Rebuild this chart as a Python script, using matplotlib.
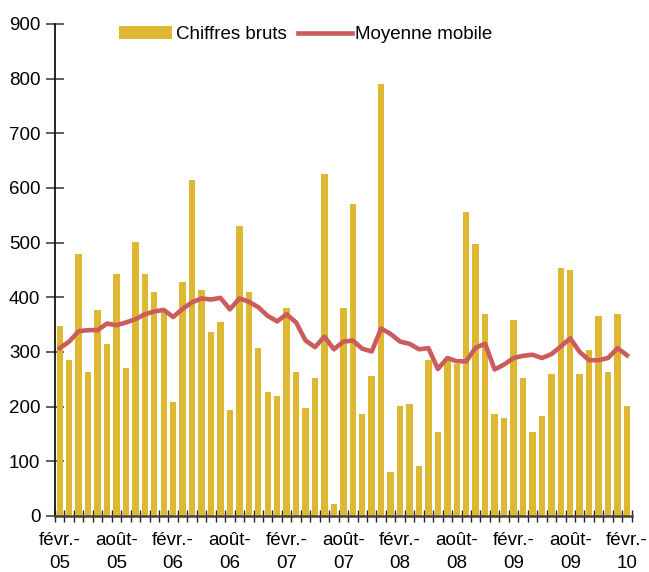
import matplotlib
matplotlib.use('Agg')
import matplotlib.pyplot as plt
import numpy as np

plt.rcParams['font.family'] = ['Liberation Sans', 'DejaVu Sans']

# monthly series, févr. 2005 -> févr. 2010
chiffres_bruts = [347, 285, 479, 263, 377, 315, 443, 271, 501, 443,
                  410, 377, 208, 428, 615, 413, 337, 355, 194, 530,
                  410, 307, 227, 219, 380, 263, 198, 252, 625, 22,
                  380, 571, 187, 256, 790, 80, 201, 205, 91, 285,
                  154, 285, 278, 556, 497, 369, 187, 179, 358, 252,
                  154, 183, 260, 454, 450, 260, 304, 366, 263, 369,
                  201]
moyenne_mobile = [307, 319, 338, 340, 340, 352, 349, 354, 360, 369,
                  374, 377, 364, 379, 391, 398, 396, 399, 378, 398,
                  392, 382, 366, 356, 369, 354, 321, 309, 328, 305,
                  319, 321, 306, 301, 343, 333, 319, 315, 305, 307,
                  269, 289, 283, 283, 308, 315, 268, 277, 289, 293,
                  295, 289, 296, 310, 325, 300, 285, 285, 289, 307,
                  294]
tick_labels = ['févr.-\n05', 'août-\n05', 'févr.-\n06', 'août-\n06',
               'févr.-\n07', 'août-\n07', 'févr.-\n08', 'août-\n08',
               'févr.-\n09', 'août-\n09', 'févr.-\n10']

bar_color = '#DFB833'
line_color = '#CC5C5C'

fig = plt.figure(figsize=(6.49, 5.72), dpi=100)
ax = fig.add_axes([55 / 649, 1 - 516 / 572, (631.7 - 55) / 649, (516 - 24) / 572])

x = np.arange(len(chiffres_bruts))
bars = ax.bar(x, chiffres_bruts, width=0.68, color=bar_color, label='Chiffres bruts', zorder=2)
line, = ax.plot(x, moyenne_mobile, color=line_color, lw=3.3, label='Moyenne mobile',
                solid_joinstyle='round', zorder=3)

ax.set_xlim(-0.5, len(x) - 0.5)
ax.set_ylim(0, 900)
ax.set_yticks(range(0, 901, 100))

# boundary ticks between months, labels every 6 months
ax.set_xticks(np.arange(len(x) + 1) - 0.5)
ax.set_xticklabels([])
ax.set_xticks(x[::6], minor=True)
ax.set_xticklabels(tick_labels, minor=True, linespacing=1.5)
ax.tick_params(axis='x', which='major', direction='inout', length=8, width=1, color='#222222')
ax.tick_params(axis='x', which='minor', length=0, pad=11.5, labelsize=13.5)
ax.tick_params(axis='y', direction='inout', length=13, width=1.2, color='#444444',
               pad=4, labelsize=13.5)

for side in ['top', 'right']:
    ax.spines[side].set_visible(False)
ax.spines['left'].set_color('#111111')
ax.spines['left'].set_linewidth(1.3)
ax.spines['bottom'].set_color('#4a4433')
ax.spines['bottom'].set_linewidth(1.8)
ax.spines['bottom'].set_zorder(4)

fig.legend(handles=[bars, line], loc='upper left', bbox_to_anchor=(119 / 649, 1 - 26 / 572),
           ncol=2, frameon=False, fontsize=13.5, borderpad=0, borderaxespad=0,
           handlelength=2.85, handletextpad=0.2, columnspacing=0.6)

fig.savefig('out.png', dpi=100)
